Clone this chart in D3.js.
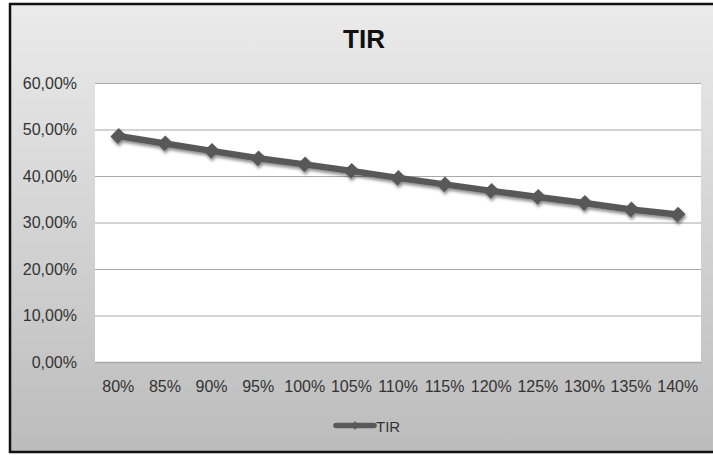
<!DOCTYPE html>
<html>
<head>
<meta charset="utf-8">
<script src="https://cdn.jsdelivr.net/npm/d3@7"></script>
<style>
  html, body { margin: 0; padding: 0; background: #ffffff; }
  svg { display: block; }
  text { font-family: "Liberation Sans", Arial, sans-serif; }
</style>
</head>
<body>
<script>
const categories = ["80%", "85%", "90%", "95%", "100%", "105%", "110%", "115%", "120%", "125%", "130%", "135%", "140%"];
const tirValues = [0.486, 0.470, 0.454, 0.438, 0.425, 0.411, 0.396, 0.382, 0.368, 0.355, 0.342, 0.328, 0.317];
const yTicks = [0, 0.1, 0.2, 0.3, 0.4, 0.5, 0.6];
const seriesName = "TIR";
const chartTitle = "TIR";

const W = 713, H = 455;
const svg = d3.select("body").append("svg").attr("width", W).attr("height", H);
const defs = svg.append("defs");

const grad = defs.append("linearGradient").attr("id", "bg").attr("x1", 0).attr("y1", 0).attr("x2", 0).attr("y2", 1);
grad.append("stop").attr("offset", "0%").attr("stop-color", "#ebebeb");
grad.append("stop").attr("offset", "100%").attr("stop-color", "#bcbcbc");

const shadow = defs.append("filter").attr("id", "shadow").attr("x", "-20%").attr("y", "-20%").attr("width", "140%").attr("height", "160%");
shadow.append("feDropShadow").attr("dx", 1).attr("dy", 2.5).attr("stdDeviation", 1.6)
  .attr("flood-color", "#000").attr("flood-opacity", 0.45);

// background + border
svg.append("rect").attr("x", 10).attr("y", 4).attr("width", 706).attr("height", 448)
  .attr("fill", "url(#bg)").attr("stroke", "#111").attr("stroke-width", 2.5);

const plot = { left: 95, right: 701, top: 83, bottom: 362 };

// plot area
svg.append("rect").attr("x", plot.left).attr("y", plot.top)
  .attr("width", plot.right - plot.left).attr("height", plot.bottom - plot.top)
  .attr("fill", "#ffffff");

const x = d3.scaleBand().domain(categories).range([plot.left, plot.right]).padding(0);
const y = d3.scaleLinear().domain([0, 0.6]).range([plot.bottom, plot.top]);
const fmtY = d => d3.format(".2f")(d * 100).replace(".", ",") + "%";

// y axis with gridlines
const yAxis = svg.append("g").attr("transform", `translate(${plot.left},0)`)
  .call(d3.axisLeft(y).tickValues(yTicks).tickFormat(fmtY).tickSize(-(plot.right - plot.left)).tickPadding(18));
yAxis.select(".domain").remove();
yAxis.selectAll(".tick line").attr("stroke", "#a8a8a8").attr("stroke-width", 1.2);
yAxis.selectAll(".tick text").attr("fill", "#333").attr("font-size", 16)
  .style("font-family", "'Liberation Sans', Arial, sans-serif");

// x axis labels
const xAxis = svg.append("g").attr("transform", `translate(0,${plot.bottom})`)
  .call(d3.axisBottom(x).tickSize(0).tickPadding(19));
xAxis.select(".domain").attr("stroke", "#a8a8a8").attr("stroke-width", 1.5);
xAxis.selectAll(".tick text").attr("fill", "#333").attr("font-size", 16)
  .style("font-family", "'Liberation Sans', Arial, sans-serif");

// title
svg.append("text").attr("x", 364).attr("y", 48).attr("text-anchor", "middle")
  .attr("font-size", 26).attr("font-weight", "bold").attr("fill", "#111")
  .text(chartTitle);

// series
const cx = c => x(c) + x.bandwidth() / 2;
const data = categories.map((c, i) => ({ c, v: tirValues[i] }));
const line = d3.line().x(d => cx(d.c)).y(d => y(d.v));
const series = svg.append("g").attr("filter", "url(#shadow)");
series.append("path").datum(data).attr("d", line)
  .attr("fill", "none").attr("stroke", "#595959").attr("stroke-width", 6.5).attr("stroke-linejoin", "round");
const diamond = d3.symbol().type(d3.symbolSquare).size(125);
series.selectAll("path.marker").data(data).join("path").attr("class", "marker")
  .attr("d", diamond)
  .attr("transform", d => `translate(${cx(d.c)},${y(d.v)}) rotate(45) scale(0.95,1.05)`)
  .attr("fill", "#595959");

// legend
const lg = svg.append("g");
lg.append("line").attr("x1", 336).attr("x2", 374).attr("y1", 425.5).attr("y2", 425.5)
  .attr("stroke", "#595959").attr("stroke-width", 5.5).attr("stroke-linecap", "round");
lg.append("path").attr("d", d3.symbol().type(d3.symbolSquare).size(36))
  .attr("transform", "translate(355,425.5) rotate(45)").attr("fill", "#595959");
lg.append("text").attr("x", 376).attr("y", 431.5).attr("font-size", 15).attr("fill", "#333").text(seriesName);
</script>
</body>
</html>
